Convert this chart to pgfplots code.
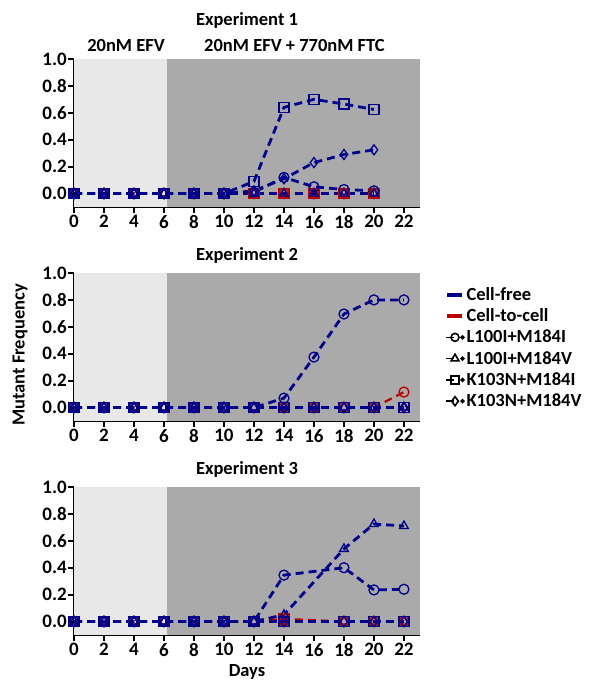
\documentclass[border=0pt]{standalone}
\usepackage{fontspec}
\setmainfont{Carlito}
\usepackage{pgfplots}
\usepackage{pgfplotstable}
\pgfplotsset{compat=1.18}

\definecolor{cfblue}{RGB}{0,0,140}
\definecolor{ccred}{RGB}{190,0,0}
\definecolor{lightbg}{RGB}{232,232,232}
\definecolor{darkbg}{RGB}{170,170,170}

\newcommand{\bigfont}{\fontsize{18.5}{21}\selectfont\bfseries}
\newcommand{\tickfont}{\fontsize{19}{21}\selectfont\bfseries}

% day, cell-free (O T S D), cell-to-cell (O T S D)
\pgfplotstableread{
day cfO cfT cfS cfD ccO ccT ccS ccD
0  0    0 0     0     0 0 0 0
2  0    0 0     0     0 0 0 0
4  0    0 0     0     0 0 0 0
6  0    0 0     0     0 0 0 0
8  0    0 0     0     0 0 0 0
10 0    0 0     0     0 0 0 0
12 0.01 0 0.09  0.02  0 0 0 0
14 0.12 0 0.64  0.11  0 0 0 0
16 0.05 0 0.70  0.23  0 0 0 0
18 0.03 0 0.665 0.29  0 0 0 0
20 0.02 0 0.625 0.325 0 0 0 0
}\expA

\pgfplotstableread{
day cfO cfT cfS cfD ccO ccT ccS ccD
0  0     0 0 0 0     0 0 0
2  0     0 0 0 0     0 0 0
4  0     0 0 0 0     0 0 0
6  0     0 0 0 0     0 0 0
8  0     0 0 0 0     0 0 0
10 0     0 0 0 0     0 0 0
12 0     0 0 0 0     0 0 0
14 0.07  0 0 0 0     0 0 0
16 0.375 0 0 0 0     0 0 0
18 0.695 0 0 0 0     0 0 0
20 0.80  0 0 0 0     0 0 0
22 0.80  0 0 0 0.115 0 0 0
}\expB

\pgfplotstableread{
day cfO cfT cfS cfD ccO ccT ccS ccD
0  0     0     0 0 0 0 0     0
2  0     0     0 0 0 0 0     0
4  0     0     0 0 0 0 0     0
6  0     0     0 0 0 0 0     0
8  0     0     0 0 0 0 0     0
10 0     0     0 0 0 0 0     0
12 0     0     0 0 0 0 0     0
14 0.345 0.05  0 0 0 0 0.02  0
18 0.40  0.54  0 0 0 0 0     0
20 0.235 0.725 0 0 0 0 0     0
22 0.24  0.71  0 0 0 0 0     0
}\expC

\pgfplotsset{
  panel/.style={
    scale only axis, width=346pt, height=148pt,
    xmin=0, xmax=23.07, ymin=-0.1, ymax=1.0,
    axis x line=bottom, axis y line=left,
    axis line style={line width=2.4pt, -},
    xtick={0,2,4,6,8,10,12,14,16,18,20,22},
    ytick={0,0.2,0.4,0.6,0.8,1.0},
    tick align=outside, major tick length=6pt,
    tick style={line width=2pt, black},
    /pgf/number format/assume math mode=true,
    tick label style={font=\tickfont},
    yticklabel style={/pgf/number format/fixed, /pgf/number format/fixed zerofill,
      /pgf/number format/precision=1, inner sep=1pt},
    xticklabel style={inner sep=2pt},
    clip=false,
  },
  cf/.style={cfblue, line width=2.8pt, dash pattern=on 8pt off 5pt,
    mark options={solid, line width=1.3pt, fill=none, mark size=5pt}, forget plot},
  cc/.style={ccred, line width=2.2pt, dash pattern=on 8pt off 5pt,
    mark options={solid, line width=1.3pt, fill=none, mark size=5pt}, forget plot},
  mkleg/.style={legend image code/.code={
      \draw[##1, mark=none] (-1pt,0pt) -- (7pt,0pt);
      \draw[##1] plot coordinates {(8pt,0pt)};
      \fill (15.5pt,0pt) circle (1.3pt);}},
  lineleg/.style={legend image code/.code={
      \draw[##1] (0pt,0pt) -- (15pt,0pt);}},
}

\newcommand{\panelplots}[1]{%
  \addplot[fill=lightbg, draw=none, forget plot] coordinates {(0,-0.1) (6.2,-0.1) (6.2,1.0) (0,1.0)} -- cycle;
  \addplot[fill=darkbg, draw=none, forget plot] coordinates {(6.2,-0.1) (23.07,-0.1) (23.07,1.0) (6.2,1.0)} -- cycle;
  \addplot[cc, mark=o] table[x=day, y=ccO] {#1};
  \addplot[cc, mark=triangle] table[x=day, y=ccT] {#1};
  \addplot[cc, mark=square] table[x=day, y=ccS] {#1};
  \addplot[cc, mark=diamond] table[x=day, y=ccD] {#1};
  \addplot[cf, mark=diamond] table[x=day, y=cfD] {#1};
  \addplot[cf, mark=square] table[x=day, y=cfS] {#1};
  \addplot[cf, mark=triangle] table[x=day, y=cfT] {#1};
  \addplot[cf, mark=o] table[x=day, y=cfO] {#1};
}

\begin{document}
\begin{tikzpicture}
\path[use as bounding box] (0,0) rectangle (590pt,681pt);

\begin{axis}[panel, at={(74pt,474pt)}, anchor=south west]
  \panelplots{\expA}
  \node[anchor=base, yshift=33pt, font=\bigfont] at (rel axis cs:0.5,1) {Experiment 1};
  \node[anchor=base, yshift=7pt, font=\bigfont] at (axis cs:3.47,1) {20nM EFV};
  \node[anchor=base, yshift=7pt, font=\bigfont] at (axis cs:14.7,1) {20nM EFV + 770nM FTC};
\end{axis}

\begin{axis}[panel, at={(74pt,260pt)}, anchor=south west,
  legend style={at={(1.063,0.932)}, anchor=north west, draw=none, fill=none,
    font=\bigfont, row sep=3pt},
  legend cell align=left]
  \panelplots{\expB}
  \node[anchor=base, yshift=12pt, font=\bigfont] at (rel axis cs:0.5,1) {Experiment 2};
  \addlegendimage{cfblue, line width=4pt, lineleg}
  \addlegendentry{Cell-free}
  \addlegendimage{ccred, line width=4pt, lineleg}
  \addlegendentry{Cell-to-cell}
  \addlegendimage{black, line width=1.6pt, mark=o, mark size=4pt, mkleg}
  \addlegendentry{L100I+M184I}
  \addlegendimage{black, line width=1.6pt, mark=triangle, mark size=4.5pt, mkleg}
  \addlegendentry{L100I+M184V}
  \addlegendimage{black, line width=1.6pt, mark=square, mark size=4pt, mkleg}
  \addlegendentry{K103N+M184I}
  \addlegendimage{black, line width=1.6pt, mark=diamond, mark size=4.5pt, mkleg}
  \addlegendentry{K103N+M184V}
\end{axis}

\begin{axis}[panel, at={(74pt,46pt)}, anchor=south west]
  \panelplots{\expC}
  \node[anchor=base, yshift=12pt, font=\bigfont] at (rel axis cs:0.5,1) {Experiment 3};
\end{axis}

\node[font=\bigfont, rotate=90] at (20pt,326pt) {Mutant Frequency};
\node[font=\bigfont] at (247pt,9pt) {Days};
\end{tikzpicture}
\end{document}
